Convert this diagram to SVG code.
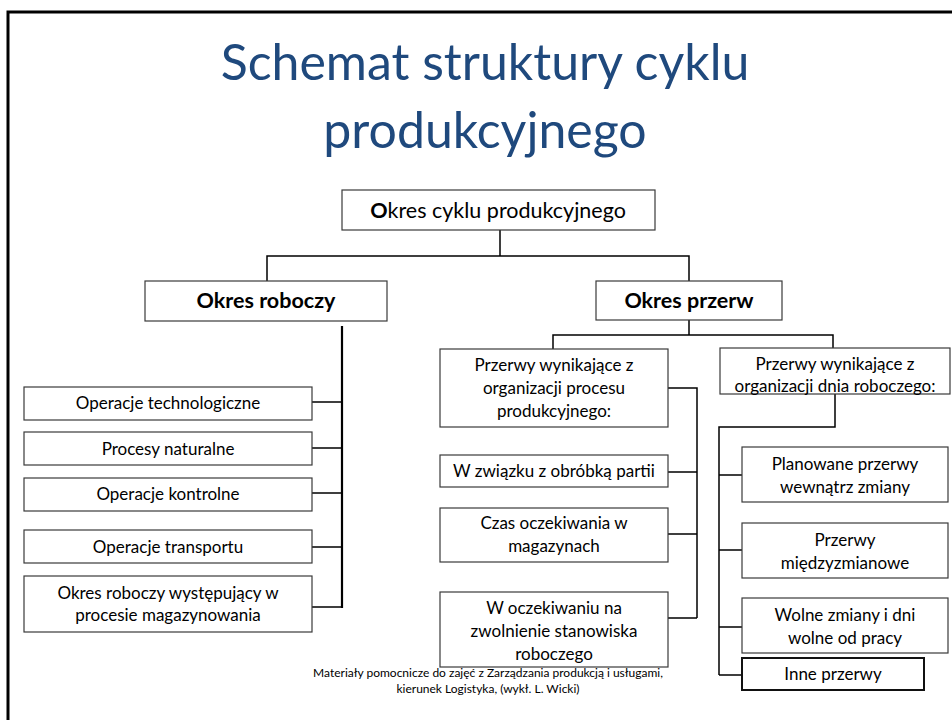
<svg xmlns="http://www.w3.org/2000/svg" width="952" height="720" viewBox="0 0 952 720">
<style>
.box{fill:#fff;stroke:#3a3a3a;stroke-width:1.2}
.t{font-family:Lato,"Open Sans","Liberation Sans",sans-serif;font-size:17px;fill:#000;text-anchor:middle}
.b{font-weight:bold;font-size:21.5px}
.r{font-size:21.5px}
.c{fill:none;stroke:#000;stroke-width:1.5}
.inne{stroke:#111;stroke-width:2}
</style>
<rect width="952" height="720" fill="#fff"/>
<path d="M8 720 V12 H952" fill="none" stroke="#000" stroke-width="3"/>
<g id="title" font-family="Lato,'Open Sans','Liberation Sans',sans-serif" font-size="50" fill="#1F497D" text-anchor="middle">
<text x="485" y="80">Schemat struktury cyklu</text>
<text x="485" y="148">produkcyjnego</text>
</g>
<g id="connectors">
<path class="c" d="M500 230 V256 M267 281 V256 H689 V281"/>
<path class="c" d="M689 320 V335 M553 349 V335 H833 V348"/>
<path class="c" d="M342 326 V608" style="stroke-width:2.2"/>
<path class="c" d="M312 402 H342 M312 448 H342 M312 493 H342 M312 547 H342 M312 607 H342"/>
<path class="c" d="M668 388 H697 V618 M668 472 H697 M668 534 H697 M668 618 H697"/>
<path class="c" d="M835 394 V427 H719 V675 M719 475 H742 M719 550 H742 M719 627 H742 M719 675 H742"/>
</g>
<g id="n-root"><rect class="box" x="342" y="190" width="313" height="40"/><text class="t r" x="498" y="218"><tspan font-weight="bold">O</tspan>kres cyklu produkcyjnego</text></g>
<g id="n-roboczy"><rect class="box" x="145" y="281" width="242" height="40"/><text class="t b" x="266" y="308">Okres roboczy</text></g>
<g id="n-przerw"><rect class="box" x="596" y="281" width="186" height="39"/><text class="t b" x="689" y="308">Okres przerw</text></g>
<g id="n-l1"><rect class="box" x="24" y="387" width="288" height="33"/><text class="t" x="168" y="409">Operacje technologiczne</text></g>
<g id="n-l2"><rect class="box" x="24" y="432" width="288" height="33"/><text class="t" x="168" y="455">Procesy naturalne</text></g>
<g id="n-l3"><rect class="box" x="24" y="478" width="288" height="33"/><text class="t" x="168" y="500">Operacje kontrolne</text></g>
<g id="n-l4"><rect class="box" x="24" y="530" width="288" height="33"/><text class="t" x="168" y="553">Operacje transportu</text></g>
<g id="n-l5"><rect class="box" x="24" y="576" width="288" height="56"/><text class="t" x="168" y="599">Okres roboczy występujący w</text><text class="t" x="168" y="621">procesie magazynowania</text></g>
<g id="n-m1"><rect class="box" x="440" y="349" width="228" height="78"/><text class="t" x="554" y="371">Przerwy wynikające z</text><text class="t" x="554" y="394">organizacji procesu</text><text class="t" x="554" y="417">produkcyjnego:</text></g>
<g id="n-m2"><rect class="box" x="440" y="455" width="228" height="32"/><text class="t" x="554" y="477">W związku z obróbką partii</text></g>
<g id="n-m3"><rect class="box" x="440" y="508" width="228" height="54"/><text class="t" x="554" y="529">Czas oczekiwania w</text><text class="t" x="554" y="552">magazynach</text></g>
<g id="n-m4"><rect class="box" x="440" y="592" width="228" height="75"/><text class="t" x="554" y="614">W oczekiwaniu na</text><text class="t" x="554" y="637">zwolnienie stanowiska</text><text class="t" x="554" y="660">roboczego</text></g>
<g id="n-r1"><rect class="box" x="720" y="348" width="230" height="46"/><text class="t" x="835" y="370">Przerwy wynikające z</text><text class="t" x="835" y="392">organizacji dnia roboczego:</text></g>
<g id="n-r2"><rect class="box" x="742" y="447" width="206" height="55"/><text class="t" x="845" y="470">Planowane przerwy</text><text class="t" x="845" y="493">wewnątrz zmiany</text></g>
<g id="n-r3"><rect class="box" x="742" y="523" width="206" height="55"/><text class="t" x="845" y="546">Przerwy</text><text class="t" x="845" y="569">międzyzmianowe</text></g>
<g id="n-r4"><rect class="box" x="742" y="598" width="206" height="55"/><text class="t" x="845" y="621">Wolne zmiany i dni</text><text class="t" x="845" y="644">wolne od pracy</text></g>
<g id="n-r5"><rect class="box inne" x="742" y="658" width="182" height="32"/><text class="t" x="833" y="680">Inne przerwy</text></g>
<g id="footer" font-family="Lato,'Open Sans','Liberation Sans',sans-serif" font-size="12" fill="#000" text-anchor="middle">
<text x="488" y="677">Materiały pomocnicze do zajęć z Zarządzania produkcją i usługami,</text>
<text x="488" y="693">kierunek Logistyka, (wykł. L. Wicki)</text>
</g>
</svg>
